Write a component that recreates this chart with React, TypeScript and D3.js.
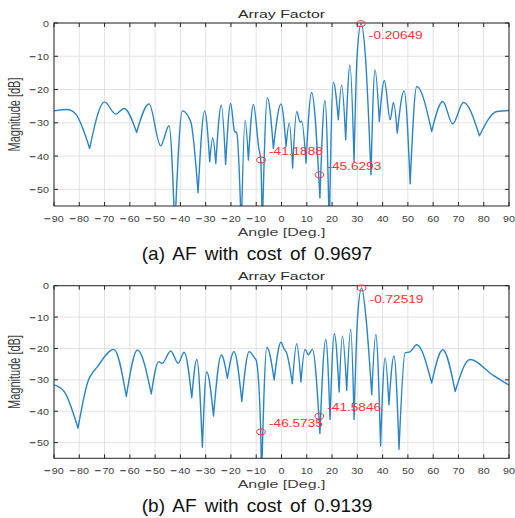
import React from 'react';
import * as d3 from 'd3';

// tick labels
const xTicks = [-90, -80, -70, -60, -50, -40, -30, -20, -10, 0, 10, 20, 30, 40, 50, 60, 70, 80, 90];
const yTicks = [0, -10, -20, -30, -40, -50];

// (a) array factor (deg, dB)
const angleA = [
  -90, -84.7, -81.5, -75.9, -70, -65.6, -62.3, -57.3, -52.4, -47.8, -44.5, -42.2, -39.2, -35.9, -33,
  -30.4, -28.4, -27.2, -26, -23.8, -22.1, -20.1, -18.6, -17.7, -15.9, -14.4, -13.1, -11.1, -9.0, -8.2,
  -7.6, -5.6, -3.2, -0.2, 1.8, 3.1, 4.4, 6.0, 7.4, 8.0, 9.7, 11.9, 15.2, 17.2, 18.9, 20.5, 22.5, 23.8,
  25.4, 27.1, 28.7, 29.9, 31.5, 33.2, 35.4, 37.0, 38.7, 40.7, 43.0, 44.3, 45.8, 48.5, 50.9, 53.5, 59.4,
  63.8, 67.7, 72.0, 78.3, 85.2, 90,
];
const magA = [
  -26.4, -26.0, -27.3, -37.7, -23.7, -27.4, -25.7, -32.9, -24.3, -36.9, -30.9, -62, -26.4, -29.7, -51,
  -26.4, -41.7, -34.5, -42.2, -24.7, -42.5, -24.2, -32.5, -33, -62, -29.2, -41.2, -24.5, -37.5, -41.2,
  -62, -22.5, -37.7, -24.3, -37.1, -30.1, -43.6, -26.6, -29.8, -29.5, -42.1, -20.9, -52.6, -23.3, -62, -17.8, -29.1, -18.6,
  -35.1, -12.6, -41.6, -10, -0.2, -10, -45.6, -14.1, -29.6, -17.3, -29.1, -23.9, -33.1, -20.4, -48.3, -19.1, -32.6,
  -23.6, -30.3, -23.9, -33.9, -26.6, -26.3,
];
const markAngleA = [31.4, -8.1, 15.0];
const markMagA = [-0.20649, -41.1888, -45.6293];

// (b) array factor
const angleB = [
  -90, -86, -80.5, -76.8, -72.8, -66.3, -61.4, -57, -51.5, -48.6, -47.3, -43.8, -40.9, -38.5, -35.5,
  -33.5, -31.3, -29.6, -26.9, -23.8, -21.4, -18.8, -15.7, -12.8, -10.7, -10.0, -8.2, -7.9, -5.8, -2.9,
  -0.2, 1.0, 2.0, 4.3, 6.0, 7.7, 9.3, 10.6, 12.2, 15.2, 17.5, 19.2, 20.9, 22.8, 24.1, 25.8, 27.4, 28.7,
  30.1, 31.7, 33.4, 35.7, 37.3, 39.2, 41.0, 42.5, 44.5, 46.5, 48.9, 50.8, 53.5, 59.4, 63.8, 68.7, 74.6, 83.8, 90,
];
const magB = [
  -31.6, -33.7, -45.4, -31.1, -25.8, -20.3, -35.3, -20.5, -34.5, -24.2, -24.8, -20.8, -24.7, -21.2, -35.7,
  -23.5, -51.5, -27.4, -41.5, -22.1, -29.5, -21.0, -36.9, -21.0, -23.0, -23.8, -46.5, -62, -19.6, -30.0,
  -18.0, -20.1, -21.4, -31.2, -18.5, -30.7, -20.3, -22.0, -20.3, -47.1, -17.1, -42.6, -15.3, -33.9, -16.0, -33.3, -13.9, -42.6,
  -10, -0.7, -10, -34.7, -15.5, -51.1, -23.0, -37.9, -22.4, -52.1, -21.4, -21.1, -18.8, -31.0, -20.4, -33.7, -23.5, -28.6, -31.7,
];
const markAngleB = [31.7, -8.1, 14.95];
const markMagB = [-0.72519, -46.5735, -41.5846];

const FONT = '"Liberation Sans", Arial, Helvetica, sans-serif';
const LEFT = 54;
const RIGHT = 509;

const STextNode = ({ x, y, anchor = 'middle', size = 10, fill = '#404040', sx = 1.45, children }: any) => (
  <text
    transform={`translate(${x},${y}) scale(${sx},1)`}
    textAnchor={anchor}
    fontSize={size}
    fill={fill}
    fontFamily={FONT}
  >
    {children}
  </text>
);

// tick number, MATLAB draws a long minus sign
const TickLabel = ({ x, y, anchor, value }: any) => (
  <text
    transform={`translate(${x},${y}) scale(1.12,1)`}
    textAnchor={anchor}
    fontSize={9.6}
    fill="#404040"
    fontFamily={FONT}
  >
    {value < 0 ? (
      <>
        <tspan stroke="#404040" strokeWidth={0.35}>{'\u2212'}</tspan>
        <tspan dx={1.2}>{Math.abs(value)}</tspan>
      </>
    ) : (
      String(value)
    )}
  </text>
);

// split at sharp nulls so each lobe is its own smooth arch
function curvePath(angles: number[], mags: number[], x: any, y: any) {
  const cut: number[] = [0];
  for (let i = 1; i < mags.length - 1; i++) {
    const m = mags[i];
    if (m < mags[i - 1] && m < mags[i + 1] && m < Math.min(mags[i - 1], mags[i + 1]) - 6.5) cut.push(i);
  }
  cut.push(mags.length - 1);
  const line = d3.line<number>()
    .x(i => x(angles[i]))
    .y(i => y(mags[i]))
    .curve(d3.curveMonotoneX);
  let d = '';
  for (let k = 0; k < cut.length - 1; k++) {
    const idx = d3.range(cut[k], cut[k + 1] + 1);
    const seg = line(idx) || '';
    d += k === 0 ? seg : seg.replace(/^M[^A-Za-z]*/, '');
  }
  return d;
}

const Panel = ({ id, top, bottom, angles, mags, markAngles, markMags, caption, captionY }: any) => {
  const x = d3.scaleLinear().domain([-90, 90]).range([LEFT, RIGHT]);
  const y = d3.scaleLinear().domain([-55, 0]).range([bottom, top]);
  const d = curvePath(angles, mags, x, y);
  const cx = (LEFT + RIGHT) / 2;
  return (
    <g>
      <defs>
        <clipPath id={id}>
          <rect x={LEFT} y={top} width={RIGHT - LEFT} height={bottom - top} />
        </clipPath>
      </defs>
      <rect x={LEFT} y={top} width={RIGHT - LEFT} height={bottom - top} fill="#fff" />
      {xTicks.map(t => (
        <line key={'gx' + t} x1={x(t)} x2={x(t)} y1={top} y2={bottom} stroke="#e3e3e3" strokeWidth={1} />
      ))}
      {yTicks.map(t => (
        <line key={'gy' + t} x1={LEFT} x2={RIGHT} y1={y(t)} y2={y(t)} stroke="#e3e3e3" strokeWidth={1} />
      ))}
      <path d={d} fill="none" stroke="#2b84c6" strokeWidth={1.4} strokeLinejoin="round" clipPath={`url(#${id})`} />
      {/* ticks */}
      {xTicks.map(t => (
        <g key={'tx' + t}>
          <line x1={x(t)} x2={x(t)} y1={bottom} y2={bottom - 4} stroke="#262626" />
          <line x1={x(t)} x2={x(t)} y1={top} y2={top + 4} stroke="#262626" />
          <TickLabel x={x(t)} y={bottom + 15.5} anchor="middle" value={t} />
        </g>
      ))}
      {yTicks.map(t => (
        <g key={'ty' + t}>
          <line x1={LEFT} x2={LEFT + 4} y1={y(t)} y2={y(t)} stroke="#262626" />
          <line x1={RIGHT} x2={RIGHT - 4} y1={y(t)} y2={y(t)} stroke="#262626" />
          <TickLabel x={LEFT - 5} y={y(t) + 3.5} anchor="end" value={t} />
        </g>
      ))}
      <rect x={LEFT} y={top} width={RIGHT - LEFT} height={bottom - top} fill="none" stroke="#262626" strokeWidth={1} />
      {/* data tips */}
      {markAngles.map((a: number, i: number) => {
        const px = x(a);
        const py = y(markMags[i]);
        const below = markMags[i] > -5;
        return (
          <g key={'m' + i}>
            <ellipse cx={px} cy={py} rx={4.3} ry={2.9} fill="none" stroke="#ff3030" strokeWidth={1} />
            <STextNode x={px + 8} y={below ? py + 15 : py - 5} anchor="start" size={10.5} sx={1.3} fill="#ff3030">
              {String(markMags[i])}
            </STextNode>
          </g>
        );
      })}
      <STextNode x={cx} y={top - 5.5} size={11.5} sx={1.38} fill="#2b2b2b">Array Factor</STextNode>
      <STextNode x={cx} y={bottom + 30} size={11} sx={1.45} fill="#404040">Angle [Deg.]</STextNode>
      <text
        transform={`translate(19.5,${(top + bottom) / 2}) rotate(-90) scale(1,1.45)`}
        textAnchor="middle"
        fontSize={11}
        fill="#404040"
        fontFamily={FONT}
      >
        Magnitude [dB]
      </text>
      <text x={257} y={captionY} textAnchor="middle" fontSize={19} fill="#111" fontFamily={FONT} style={{ wordSpacing: '3px' }}>
        {caption}
      </text>
    </g>
  );
};

export default function App() {
  return (
    <svg width={515} height={518} style={{ position: 'absolute', left: 0, top: 0, background: '#fff' }}>
      <Panel id="clipA" top={23} bottom={206} angles={angleA} mags={magA}
        markAngles={markAngleA} markMags={markMagA} caption="(a) AF with cost of 0.9697" captionY={260} />
      <Panel id="clipB" top={285.7} bottom={458.3} angles={angleB} mags={magB}
        markAngles={markAngleB} markMags={markMagB} caption="(b) AF with cost of 0.9139" captionY={511.5} />
    </svg>
  );
}
